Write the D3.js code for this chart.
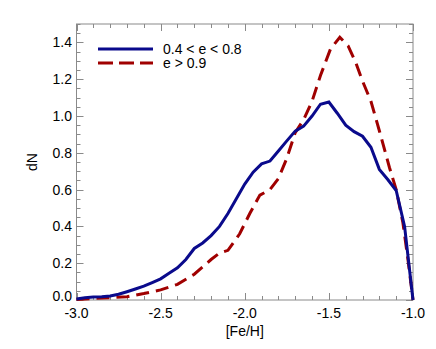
<!DOCTYPE html>
<html>
<head>
    <meta charset="utf-8">
    <style>
        body { margin: 0; background: #fff; }
        svg text { font-family: "Liberation Sans", Arial, sans-serif; font-size: 14px; fill: #000; }
    </style>
    <script src="https://cdn.jsdelivr.net/npm/d3@7"></script>
</head>
<body>
<div id="chart"></div>
<script>
    // metallicity distributions
    var blueX = [-3.0, -2.95, -2.9, -2.85, -2.8, -2.75, -2.7, -2.65, -2.6, -2.55, -2.5, -2.45, -2.4, -2.35,
        -2.3, -2.25, -2.2, -2.15, -2.1, -2.05, -2.0, -1.95, -1.9, -1.85, -1.8, -1.75, -1.7, -1.65, -1.6,
        -1.55, -1.5, -1.45, -1.4, -1.35, -1.3, -1.25, -1.2, -1.15, -1.1, -1.05, -1.0];
    var blueY = [0.006, 0.012, 0.016, 0.018, 0.022, 0.031, 0.045, 0.06, 0.075, 0.095, 0.115, 0.145, 0.175, 0.22,
        0.28, 0.31, 0.35, 0.40, 0.47, 0.55, 0.63, 0.695, 0.74, 0.755, 0.81, 0.865, 0.918, 0.945, 1.0,
        1.064, 1.076, 1.015, 0.95, 0.915, 0.89, 0.83, 0.71, 0.655, 0.595, 0.40, 0.0];

    var redX = [-3.0, -2.8, -2.7, -2.6, -2.5, -2.4, -2.3, -2.2, -2.15, -2.1, -2.03, -1.97, -1.91, -1.85, -1.8,
        -1.75, -1.7, -1.65, -1.6, -1.55, -1.49, -1.435, -1.385, -1.34, -1.3, -1.25, -1.2, -1.14, -1.1,
        -1.06, -1.03, -1.0];
    var redY = [0.003, 0.013, 0.018, 0.035, 0.055, 0.085, 0.14, 0.22, 0.255, 0.27, 0.36, 0.47, 0.57, 0.60, 0.66,
        0.77, 0.91, 0.98, 1.08, 1.22, 1.365, 1.428, 1.38, 1.29, 1.19, 1.08, 0.92, 0.72, 0.60,
        0.42, 0.22, 0.0];

    var xTicks = [-3.0, -2.5, -2.0, -1.5, -1.0];
    var yTicks = [0.0, 0.2, 0.4, 0.6, 0.8, 1.0, 1.2, 1.4];
    var seriesNames = ["0.4 < e < 0.8", "e > 0.9"];

    var W = 436, H = 349;
    var pLeft = 76.5, pRight = 413, pTop = 24, pBottom = 300;

    var x = d3.scaleLinear().domain([-3.0, -1.0]).range([pLeft, pRight]);
    var y = d3.scaleLinear().domain([0, 1.5]).range([pBottom, pTop]);

    var svg = d3.select("#chart").append("svg")
        .attr("width", W)
        .attr("height", H);

    var frameColor = "#8a8a8a";

    // minor ticks every 0.1 in x, 0.05 in y, on all four sides
    var xMinor = d3.range(-3.0, -0.999, 0.1);
    var yMinor = d3.range(0, 1.5001, 0.05);
    var isMajorX = function (v) { return xTicks.some(function (t) { return Math.abs(t - v) < 1e-6; }); };
    var isMajorY = function (v) { return yTicks.some(function (t) { return Math.abs(t - v) < 1e-6; }); };

    var ticks = svg.append("g").attr("stroke", frameColor).attr("stroke-width", 1);
    xMinor.forEach(function (v) {
        var len = isMajorX(v) ? 7 : 4;
        var px = Math.round(x(v)) + 0.5;
        ticks.append("line").attr("x1", px).attr("x2", px).attr("y1", pBottom).attr("y2", pBottom - len);
        ticks.append("line").attr("x1", px).attr("x2", px).attr("y1", pTop).attr("y2", pTop + len);
    });
    yMinor.forEach(function (v) {
        var len = isMajorY(v) ? 7 : 4;
        var py = Math.round(y(v)) + 0.5;
        ticks.append("line").attr("x1", pLeft).attr("x2", pLeft + len).attr("y1", py).attr("y2", py);
        ticks.append("line").attr("x1", pRight).attr("x2", pRight - len).attr("y1", py).attr("y2", py);
    });

    svg.append("rect")
        .attr("x", pLeft).attr("y", pTop)
        .attr("width", pRight - pLeft).attr("height", pBottom - pTop)
        .attr("fill", "none")
        .attr("stroke", frameColor)
        .attr("stroke-width", 1);

    // tick labels
    svg.selectAll(".xl").data(xTicks).enter().append("text")
        .attr("x", function (d) { return x(d); })
        .attr("y", 318)
        .attr("text-anchor", "middle")
        .text(function (d) { return d3.format(".1f")(d).replace("−", "-"); });

    svg.selectAll(".yl").data(yTicks).enter().append("text")
        .attr("x", 72)
        .attr("y", function (d) { return y(d) + 5 - (d === 0 ? 4 : 0); })
        .attr("text-anchor", "end")
        .text(function (d) { return d3.format(".1f")(d); });

    svg.append("text")
        .attr("x", (pLeft + pRight) / 2)
        .attr("y", 336)
        .attr("text-anchor", "middle")
        .text("[Fe/H]");

    svg.append("text")
        .attr("transform", "translate(37," + ((pTop + pBottom) / 2) + ") rotate(-90)")
        .attr("text-anchor", "middle")
        .text("dN");

    var line = d3.line()
        .x(function (d) { return x(d[0]); })
        .y(function (d) { return y(d[1]); });

    var redData = redX.map(function (v, i) { return [v, redY[i]]; });
    var blueData = blueX.map(function (v, i) { return [v, blueY[i]]; });

    svg.append("path")
        .datum(redData)
        .attr("d", line)
        .attr("fill", "none")
        .attr("stroke", "#a00000")
        .attr("stroke-width", 3)
        .attr("stroke-dasharray", "13,7");

    svg.append("path")
        .datum(blueData)
        .attr("d", line)
        .attr("fill", "none")
        .attr("stroke", "#0a0a8c")
        .attr("stroke-width", 3);

    // legend
    var legend = svg.append("g");
    legend.append("line")
        .attr("x1", 98).attr("x2", 153).attr("y1", 49).attr("y2", 49)
        .attr("stroke", "#0a0a8c").attr("stroke-width", 3);
    legend.append("line")
        .attr("x1", 98).attr("x2", 153).attr("y1", 63).attr("y2", 63)
        .attr("stroke", "#a00000").attr("stroke-width", 3)
        .attr("stroke-dasharray", "15,6");
    legend.append("text").attr("x", 163).attr("y", 54).text(seriesNames[0]);
    legend.append("text").attr("x", 163).attr("y", 68).text(seriesNames[1]);
</script>
</body>
</html>
